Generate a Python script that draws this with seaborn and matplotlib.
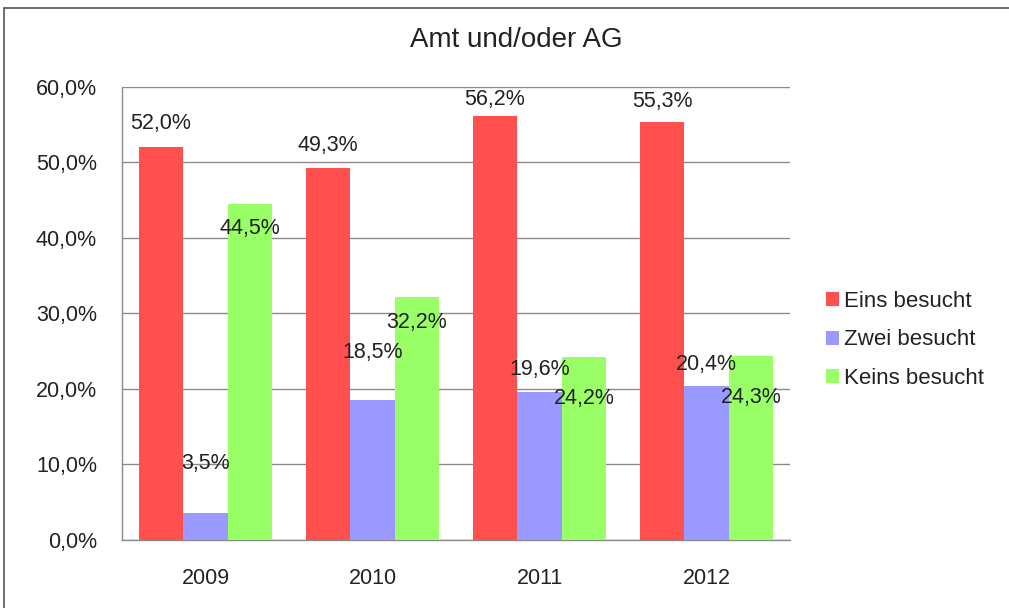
import matplotlib
matplotlib.use("Agg")
import matplotlib.pyplot as plt
from matplotlib.lines import Line2D
from matplotlib.ticker import FuncFormatter, MultipleLocator
import seaborn as sns
import pandas as pd

# Daten
years = ["2009", "2010", "2011", "2012"]
groups = ["Eins besucht", "Zwei besucht", "Keins besucht"]
eins = [52.0, 49.3, 56.2, 55.3]
zwei = [3.5, 18.5, 19.6, 20.4]
keins = [44.5, 32.2, 24.2, 24.3]

colors = ["#FF4F4F", "#9999FF", "#99FF66"]
# vertical offset of each value label from the bar top, in pixels
label_dy = [
    [24, 22, 16, 21],
    [50, 48, 22, 21],
    [-25, -26, -41, -41],
]

rows = []
for g, vals in zip(groups, [eins, zwei, keins]):
    for y, v in zip(years, vals):
        rows.append({"Jahr": y, "Gruppe": g, "Wert": v})
df = pd.DataFrame(rows)

sns.set_style("white")
plt.rcParams["font.family"] = ["Liberation Sans", "DejaVu Sans"]
txt = "#222222"

fig = plt.figure(figsize=(10.09, 6.08), dpi=100)
ax = fig.add_axes([0.121, 0.112, 0.662, 0.745])

sns.barplot(data=df, x="Jahr", y="Wert", hue="Gruppe", palette=colors,
            width=0.8, saturation=1, linewidth=0, ax=ax, zorder=3)

ax.set_ylim(0, 60)
ax.set_xlim(-0.5, 3.5)
ax.yaxis.set_major_locator(MultipleLocator(10))
ax.yaxis.set_major_formatter(FuncFormatter(lambda v, p: f"{v:.1f}%".replace(".", ",")))
ax.grid(axis="y", color="#8a8a8a", linewidth=1, zorder=0)
ax.set_axisbelow(True)
for s in ["top", "right"]:
    ax.spines[s].set_visible(False)
for s in ["left", "bottom"]:
    ax.spines[s].set_color("#8a8a8a")
    ax.spines[s].set_linewidth(1)
ax.tick_params(axis="y", length=0, labelsize=15.5, pad=18, labelcolor=txt)
ax.tick_params(axis="x", length=0, labelsize=15.5, pad=20, labelcolor=txt)
ax.set_xlabel("")
ax.set_ylabel("")

# Beschriftungen
for i, cont in enumerate(ax.containers):
    for j, bar in enumerate(cont):
        v = bar.get_height()
        ax.annotate(f"{v:.1f}%".replace(".", ","),
                    (bar.get_x() + bar.get_width() / 2, v),
                    xytext=(0, label_dy[i][j]), textcoords="offset pixels",
                    ha="center", va="center", fontsize=15.5, color=txt,
                    zorder=5)

fig.text(516 / 1009, 1 - 40 / 608, "Amt und/oder AG", fontsize=20,
         ha="center", va="center", color=txt)

leg = ax.legend(loc="center left", bbox_to_anchor=(826 / 1009, 1 - 340 / 608),
                bbox_transform=fig.transFigure, frameon=False, borderpad=0,
                borderaxespad=0, fontsize=16, handlelength=0.6, handleheight=0.6,
                handletextpad=0.2, labelspacing=0.8)
for t in leg.get_texts():
    t.set_color(txt)

# Rahmen
fig.add_artist(Line2D([4 / 1009, 4 / 1009], [0, 1 - 8 / 608], transform=fig.transFigure,
                      color="#555555", linewidth=1.2))
fig.add_artist(Line2D([4 / 1009, 1], [1 - 8 / 608, 1 - 8 / 608], transform=fig.transFigure,
                      color="#555555", linewidth=1.2))

fig.savefig("out.png", dpi=100)
